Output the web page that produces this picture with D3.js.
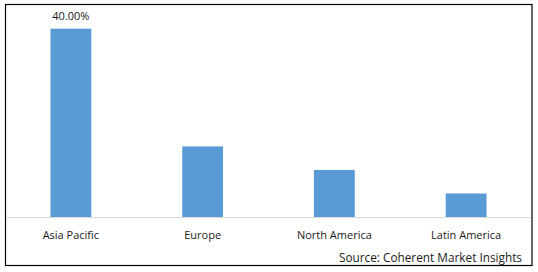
<!DOCTYPE html>
<html>
<meta charset="utf-8">
<head>
  <script src="https://d3js.org/d3.v7.min.js"></script>
</head>
<style>
  body {
    margin: 0;
    background-color: white;
  }
  text {
    font-family: 'Open Sans', 'Liberation Sans', sans-serif;
    fill: #1a1a1a;
  }
</style>
<body>
  <script>
    var regions = ["Asia Pacific", "Europe", "North America", "Latin America"];
    var shares = [40, 15, 10, 5];
    var labelled = ["40.00%", "", "", ""];
    var source = "Source: Coherent Market Insights";

    var w = 538, h = 272;

    var svg = d3.select("body").append("svg")
      .attr("width", w)
      .attr("height", h);

    // outer frame
    svg.append("rect")
      .attr("x", 5.5)
      .attr("y", 4.5)
      .attr("width", 526.5)
      .attr("height", 261)
      .attr("fill", "white")
      .attr("stroke", "black")
      .attr("stroke-width", 1.2);

    var xScale = d3.scaleBand()
      .domain(regions)
      .range([5, 532])
      .paddingInner(0.69)
      .paddingOuter(0.345);

    var yScale = d3.scaleLinear()
      .domain([0, 40])
      .range([217, 28.7]);

    svg.selectAll("rect.bar")
      .data(regions)
      .enter()
      .append("rect")
      .attr("class", "bar")
      .attr("x", function(d){ return xScale(d); })
      .attr("y", function(d, i){ return yScale(shares[i]); })
      .attr("width", xScale.bandwidth())
      .attr("height", function(d, i){ return yScale(0) - yScale(shares[i]); })
      .attr("fill", "#5B9BD5");

    // baseline
    svg.append("line")
      .attr("x1", 6)
      .attr("x2", 531)
      .attr("y1", yScale(0) + 0.5)
      .attr("y2", yScale(0) + 0.5)
      .attr("stroke", "#d9d9d9")
      .attr("stroke-width", 1);

    // category labels
    var xAxis = d3.axisBottom(xScale).tickSize(0).tickPadding(14);
    var g = svg.append("g")
      .attr("transform", "translate(0," + yScale(0) + ")")
      .call(xAxis);
    g.select(".domain").remove();
    g.selectAll("text")
      .style("font-family", "'Open Sans', 'Liberation Sans', sans-serif")
      .style("font-size", "11px")
      .attr("fill", "#1a1a1a");

    // value label
    svg.selectAll("text.value")
      .data(regions)
      .enter()
      .append("text")
      .attr("class", "value")
      .attr("x", function(d){ return xScale(d) + xScale.bandwidth() / 2; })
      .attr("y", function(d, i){ return yScale(shares[i]) - 9; })
      .attr("text-anchor", "middle")
      .style("font-size", "11px")
      .text(function(d, i){ return labelled[i]; });

    svg.append("text")
      .attr("x", 522)
      .attr("y", 262)
      .attr("text-anchor", "end")
      .style("font-size", "11.8px")
      .text(source);
  </script>
</body>
</html>
